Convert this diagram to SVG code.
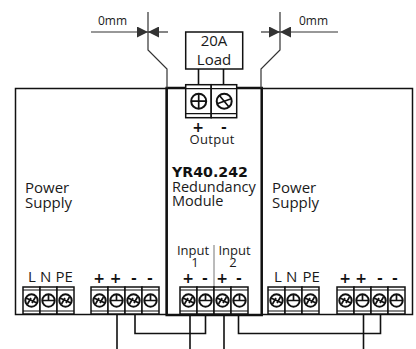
<svg xmlns="http://www.w3.org/2000/svg" width="416" height="349" viewBox="0 0 416 349">
<style>
text{font-family:"Open Sans","Noto Sans",sans-serif;fill:#1a1a1a}
.m{text-anchor:middle}
.d{font-size:12px}
.i{font-size:13px}
.l{font-size:14.500px}
.pw{font-size:15px}
.n{font-size:15px}
.b{font-family:"DejaVu Sans",sans-serif;font-weight:700;font-size:14.200px;fill:#111}
.p{font-family:"DejaVu Sans",sans-serif;font-weight:700;font-size:14px;text-anchor:middle;fill:#111}
.w{fill:none;stroke:#111;stroke-width:1.600}
.dim{fill:none;stroke:#333;stroke-width:1.200}
.cell{fill:#fff;stroke:#111;stroke-width:1.500}
.bar{fill:none;stroke:#111;stroke-width:1.200}
.sc{fill:#fff;stroke:#111;stroke-width:2}
.x{fill:none;stroke:#111;stroke-width:1.700}
</style>
<defs>
<marker id="a" markerWidth="11" markerHeight="11" refX="11" refY="5.500" orient="auto" markerUnits="userSpaceOnUse"><path d="M0 0L11 5.500L0 11z" fill="#333"/></marker>
<g id="tp"><rect class="cell" x="0" y="0" width="17" height="27"/><path class="bar" d="M0 3H17M0 24H17"/><circle class="sc" cx="8.500" cy="13.500" r="6.200"/><path class="x" d="M2.500 13.500H14.500M8.500 7.500V13.500"/></g>
<g id="tm"><rect class="cell" x="0" y="0" width="17" height="27"/><path class="bar" d="M0 3H17M0 24H17"/><circle class="sc" cx="8.500" cy="13.500" r="6.200"/><path class="x" d="M3 11L14 16M4.500 17L8 11M9 16L12.500 10"/></g>
<g id="op"><rect class="cell" x="0" y="0" width="25.500" height="33"/><path class="bar" d="M0 4H25.500M0 29H25.500"/><circle class="sc" cx="13" cy="16.500" r="7.500"/><path class="x" d="M5.500 16.500H20.500M13 9V24"/></g>
<g id="om"><rect class="cell" x="0" y="0" width="25.500" height="33"/><path class="bar" d="M0 4H25.500M0 29H25.500"/><circle class="sc" cx="13" cy="16.500" r="7.500"/><path class="x" d="M6 19L20 14M8 10.500L18 22.500"/></g>
</defs>
<g id="left-psu"><rect x="15.500" y="88.500" width="151" height="226" fill="#fff" stroke="#111" stroke-width="1.500"/>
<text class="pw" x="25" y="193">Power</text><text class="pw" x="25" y="208">Supply</text>
<text class="n" x="28" y="282">L</text><text class="n" x="40" y="282">N</text><text class="n" x="55.500" y="282">PE</text>
<text class="p" x="99" y="283">+</text><text class="p" x="115.500" y="283">+</text><text class="p" x="134" y="283">-</text><text class="p" x="150" y="283">-</text>
<use href="#tm" x="23" y="287"/><use href="#tp" x="40" y="287"/><use href="#tm" x="57" y="287"/>
<use href="#tm" x="91" y="287"/><use href="#tp" x="108" y="287"/><use href="#tm" x="125" y="287"/><use href="#tp" x="142" y="287"/></g>
<g id="right-psu"><rect x="261.500" y="88.500" width="151" height="226" fill="#fff" stroke="#111" stroke-width="1.500"/>
<text class="pw" x="272" y="193">Power</text><text class="pw" x="272" y="208">Supply</text>
<text class="n" x="274" y="282">L</text><text class="n" x="286" y="282">N</text><text class="n" x="302.500" y="282">PE</text>
<text class="p" x="345" y="283">+</text><text class="p" x="361" y="283">+</text><text class="p" x="380" y="283">-</text><text class="p" x="395" y="283">-</text>
<use href="#tm" x="268" y="287"/><use href="#tp" x="285" y="287"/><use href="#tm" x="302" y="287"/>
<use href="#tm" x="337" y="287"/><use href="#tp" x="354" y="287"/><use href="#tm" x="371" y="287"/><use href="#tp" x="388" y="287"/></g>
<g id="module"><rect x="166.700" y="88" width="95" height="227" fill="#fff" stroke="#111" stroke-width="2.500"/>
<text class="b" x="172" y="177">YR40.242</text><text class="l" x="172" y="192">Redundancy</text><text class="l" x="172" y="206">Module</text>
<text class="i m" x="193" y="255">Input</text><text class="i m" x="195" y="267">1</text>
<text class="i m" x="234.500" y="255">Input</text><text class="i m" x="233" y="267">2</text>
<path d="M214 245V287" stroke="#777" stroke-width="1"/>
<text class="p" x="188" y="283">+</text><text class="p" x="205" y="283">-</text><text class="p" x="222" y="283">+</text><text class="p" x="239" y="283">-</text>
<use href="#tm" x="180" y="287"/><use href="#tp" x="197" y="287"/><use href="#tm" x="214" y="287"/><use href="#tp" x="231" y="287"/></g>
<g id="output"><use href="#op" x="185.700" y="84.700"/><use href="#om" x="211.200" y="84.700"/>
<text class="p" x="198" y="131.500">+</text><text class="p" x="224" y="131.500">-</text><text class="i m" x="212" y="143.500" textLength="45">Output</text></g>
<g id="load"><rect x="185.700" y="32" width="57" height="37" fill="#fff" stroke="#111" stroke-width="1.500"/>
<text class="n m" x="214" y="46">20A</text><text class="n m" x="214" y="65">Load</text></g>
<g id="connectors">
<path class="w" d="M198.500 69V85M223.500 69V85"/>
<path class="w" d="M117 314V349M135 314V333.500H205.500V314M190 314V349M224 314V349M238.500 314V333.500H380.500V314M363.500 314V349"/>
<path class="dim" d="M148 12V50L167 69V88M280 12V50L261 69V88"/>
<path class="dim" d="M91 32H148" marker-end="url(#a)"/><path class="dim" d="M168 32H148" marker-end="url(#a)"/>
<path class="dim" d="M338 32H280" marker-end="url(#a)"/><path class="dim" d="M261 32H280" marker-end="url(#a)"/>
</g>
<g id="dims"><text class="d" x="98" y="25">0mm</text><text class="d" x="299" y="25">0mm</text></g>
</svg>
